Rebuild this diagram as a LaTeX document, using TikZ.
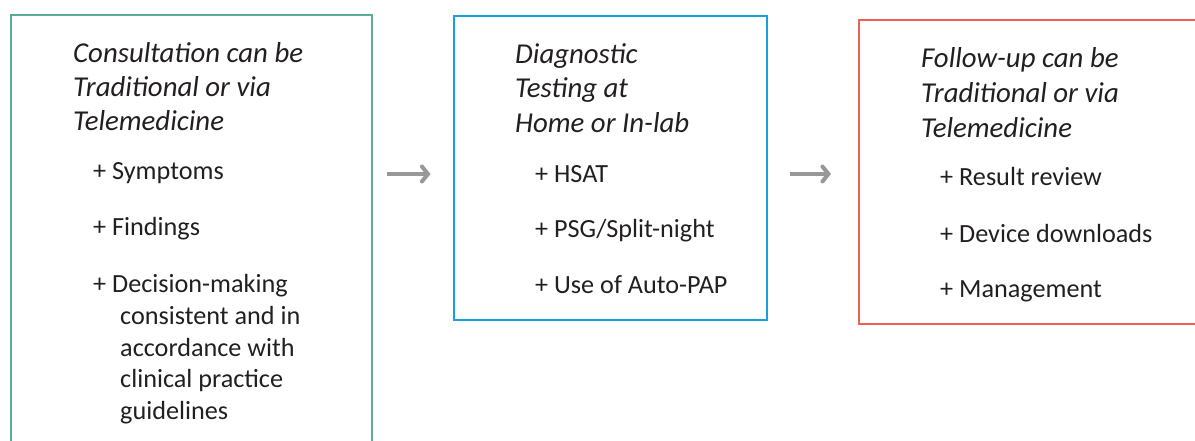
\documentclass[tikz,border=0pt]{standalone}
\usepackage{fontspec}
\setmainfont{Carlito}
\usetikzlibrary{arrows.meta}

\definecolor{consultgreen}{RGB}{90,172,153}
\definecolor{testblue}{RGB}{22,160,224}
\definecolor{followred}{RGB}{240,92,86}
\definecolor{arrowgray}{RGB}{152,152,152}
\definecolor{inktext}{RGB}{35,31,32}

\tikzset{
  stagebox/.style={draw=#1, line width=2.4pt, anchor=north west, inner sep=0pt},
  headline/.style={anchor=base west, inner sep=0pt, text=inktext,
    font=\fontsize{28.8}{34}\selectfont\itshape},
  itemline/.style={anchor=base west, inner sep=0pt, text=inktext,
    font=\fontsize{26.2}{31}\selectfont},
  flow/.style={draw=arrowgray, line width=4pt,
    -{Straight Barb[length=6pt,width=15pt,line cap=round]}}
}

\begin{document}
\begin{tikzpicture}[x=1pt,y=-1pt]
  \useasboundingbox (0,0) rectangle (1195,440);
  \clip (0,0) rectangle (1195,440);

  % the three stages
  \node[stagebox=consultgreen, minimum width=361pt, minimum height=460pt] (consult) at (10,14) {};
  \node[stagebox=testblue, minimum width=313pt, minimum height=304pt] (testing) at (452.5,14.5) {};
  \node[stagebox=followred, minimum width=360pt, minimum height=304pt] (follow) at (858,18.5) {};

  % consultation
  \foreach \y/\txt [count=\i] in {62/Consultation can be, 96/Traditional or via, 130/Telemedicine}
    \node[headline] (c-h\i) at (73,\y) {\txt};
  \foreach \y/\txt [count=\i] in {179/Symptoms, 235/Findings, 292/Decision-making}
    \node[itemline] (c-i\i) at (93,\y) {+ \txt};
  \foreach \y/\txt [count=\i] in {324.5/consistent and in, 356/accordance with, 387.5/clinical practice, 419/guidelines}
    \node[itemline] (c-w\i) at (120,\y) {\txt};

  % diagnostic testing
  \foreach \y/\txt [count=\i] in {63/Diagnostic, 97.5/Testing at, 132/Home or In-lab}
    \node[headline] (t-h\i) at (515,\y) {\txt};
  \foreach \y/\txt [count=\i] in {182/HSAT, 237.5/{PSG/Split-night}, 293/Use of Auto-PAP}
    \node[itemline] (t-i\i) at (535,\y) {+ \txt};

  % follow-up
  \foreach \y/\txt [count=\i] in {67/Follow-up can be, 102/Traditional or via, 137/Telemedicine}
    \node[headline] (f-h\i) at (921,\y) {\txt};
  \foreach \y/\txt [count=\i] in {185.5/Result review, 242/Device downloads, 297/Management}
    \node[itemline] (f-i\i) at (940,\y) {+ \txt};

  % arrows between stages
  \draw[flow, shorten <=14pt, shorten >=22pt] (consult.east |- 0,174) -- (testing.west |- 0,174);
  \draw[flow, shorten <=22pt, shorten >=27pt] (testing.east |- 0,174) -- (follow.west |- 0,174);
\end{tikzpicture}
\end{document}
